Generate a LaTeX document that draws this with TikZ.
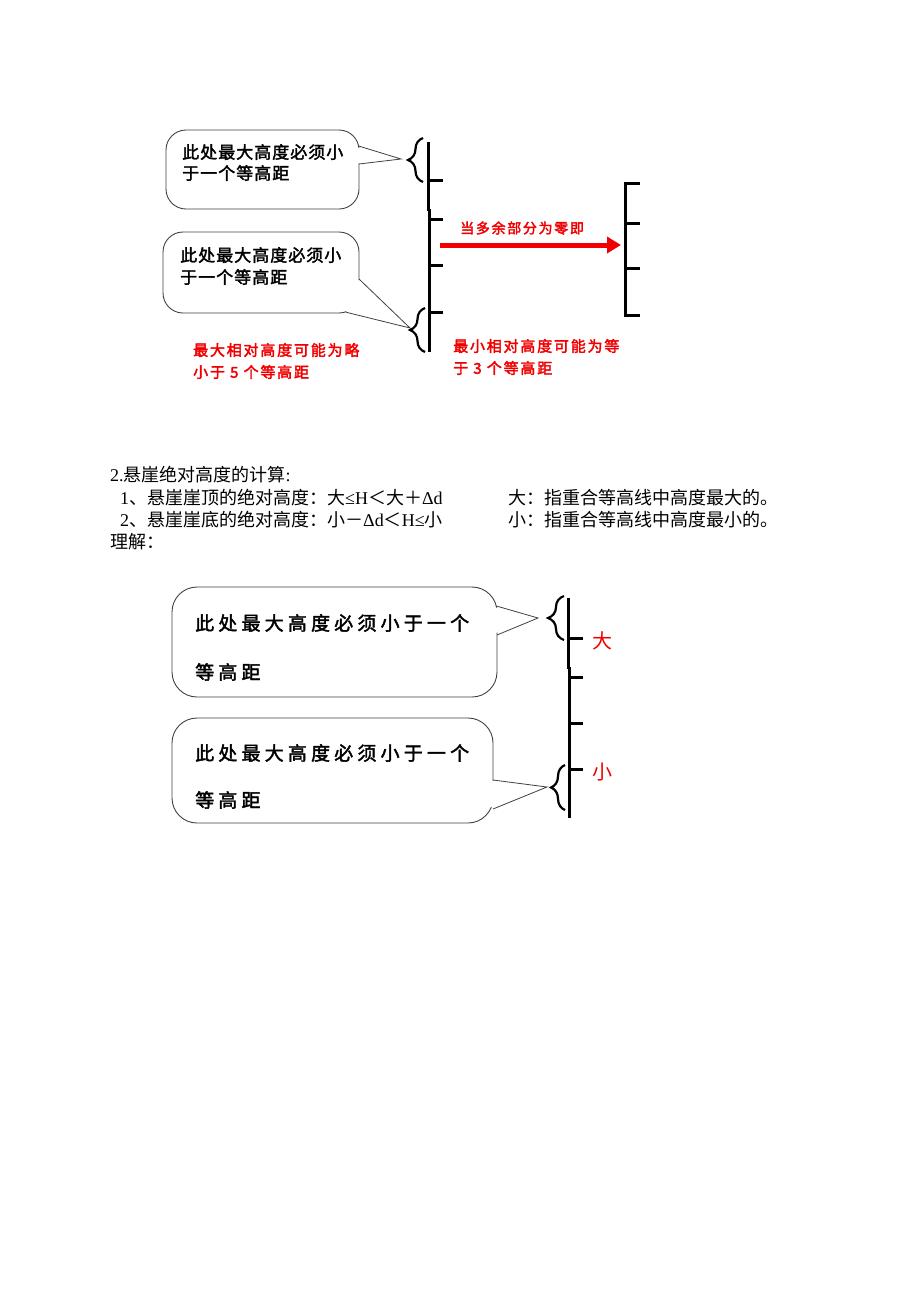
\documentclass[tikz,border=0pt]{standalone}
\usepackage{fontspec}
\setmainfont{Liberation Serif}
\newfontfamily\cjk{Noto Sans CJK SC}
\newfontfamily\cjkbA[FakeBold=2,LetterSpace=6]{Noto Sans CJK SC}
\newfontfamily\cjkred[FakeBold=2.5,LetterSpace=12]{Noto Sans CJK SC}
\newfontfamily\cjkbB[FakeBold=2,LetterSpace=22]{Noto Sans CJK SC}
\usetikzlibrary{decorations.pathreplacing,arrows.meta}
\definecolor{rd}{RGB}{240,0,0}
\begin{document}
\begin{tikzpicture}[x=1pt,y=-1pt,
  bubble/.style={draw=black!75,line width=0.9pt,rounded corners=20pt},
  bubbleB/.style={draw=black!75,line width=0.9pt,rounded corners=25pt},
  ptr/.style={draw=black!75,line width=0.8pt,line join=miter},
  ruler/.style={line width=3pt},
  tickmark/.style={line width=3pt},
  brc/.style={decorate,decoration={brace,amplitude=#1},line width=2.2pt},
  txt/.style={inner sep=0pt,anchor=west},
  boxtxt/.style={txt,font=\fontsize{17}{19}\cjkbA},
  redtxt/.style={txt,text=rd,font=\fontsize{15}{17}\cjkred},
  bigtxt/.style={txt,font=\fontsize{19}{21}\cjkbB},
  body/.style={txt,font=\fontsize{18}{20}\selectfont}
]
\useasboundingbox (0,0) rectangle (920,1302);

% ---------------- diagram 1 ----------------
\coordinate (t1) at (401,159);
\begin{scope}[even odd rule]
\clip (0,0) rectangle (920,1302) (352,146) -- (t1) -- (352,164) -- cycle;
\draw[bubble] (166,130) rectangle (359,209);
\end{scope}
\draw[ptr] (358.6,146) -- (t1) -- (358.9,164);

\coordinate (t2) at (410,328);
\begin{scope}[even odd rule]
\clip (0,0) rectangle (920,1302) (359,279) -- (t2) -- (346,312) -- cycle;
\draw[bubble] (163,232) rectangle (359,313);
\end{scope}
\draw[ptr] (359,279) -- (t2) -- (346,312.2);

\node[boxtxt] (b1l1) at (182,152) {此处最大高度必须小};
\node[boxtxt] (b1l2) at (182,173) {于一个等高距};
\node[boxtxt] (b2l1) at (180,255) {此处最大高度必须小};
\node[boxtxt] (b2l2) at (180,277) {于一个等高距};

% braces
\draw[brc=15pt] (423,182) -- (423,138);
\draw[brc=15pt] (425,352) -- (425,308);

% left ruler
\draw[ruler] (428,142) -- (428,211);
\draw[ruler] (429.5,209) -- (429.5,352);
\foreach \yy in {180,219,265,312} \draw[tickmark] (428,\yy) -- (443,\yy);

% right ruler
\draw[ruler,line join=miter] (640,183) -- (625,183) -- (625,315) -- (640,315);
\foreach \yy in {223,268} \draw[tickmark] (625,\yy) -- (640,\yy);

% arrow
\coordinate (as) at (440,245);
\coordinate (ae) at (621,245);
\draw[rd,line width=5pt,-{Triangle[length=14pt,width=16pt]}] (as) -- (ae);
\node[txt,text=rd,font=\fontsize{14}{16}\cjkred] (alab) at (460,228) {当多余部分为零即};

% red notes
\node[redtxt] (r1) at (193,350) {最大相对高度可能为略};
\node[redtxt] (r2) at (193,372) {小于 5 个等高距};
\node[redtxt] (r3) at (453,346) {最小相对高度可能为等};
\node[redtxt] (r4) at (453,368) {于 3 个等高距};

% ---------------- text ----------------
\node[body] (l1) at (110,475) {2.{\cjk 悬崖绝对高度的计算}:};
\node[body] (l2) at (120,498) {1{\cjk 、悬崖崖顶的绝对高度：大}≤H{\cjk ＜大＋}Δd};
\node[body] (l2b) at (508,498) {{\cjk 大：指重合等高线中高度最大的。}};
\node[body] (l3) at (120,520) {2{\cjk 、悬崖崖底的绝对高度：小－}Δd{\cjk ＜}H≤{\cjk 小}};
\node[body] (l3b) at (508,520) {{\cjk 小：指重合等高线中高度最小的。}};
\node[body] (l4) at (110,542) {{\cjk 理解：}};

% ---------------- diagram 2 ----------------
\coordinate (t3) at (538,618);
\begin{scope}[even odd rule]
\clip (0,0) rectangle (920,1302) (490,606) -- (t3) -- (490,635) -- cycle;
\draw[bubbleB] (172,587) rectangle (497,697);
\end{scope}
\draw[ptr] (496.4,606) -- (t3) -- (497,635);

\coordinate (t4) at (547,787);
\begin{scope}[even odd rule]
\clip (0,0) rectangle (920,1302) (486,780) -- (t4) -- (486,809) -- cycle;
\draw[bubbleB] (172,718) rectangle (493,823);
\end{scope}
\draw[ptr] (493,780) -- (t4) -- (493,809);

\node[bigtxt] (cA1) at (195,623) {此处最大高度必须小于一个};
\node[bigtxt] (cA2) at (195,672) {等高距};
\node[bigtxt] (cB1) at (195,753) {此处最大高度必须小于一个};
\node[bigtxt] (cB2) at (195,800) {等高距};

\draw[brc=16pt] (564,640) -- (564,596);
\draw[brc=14pt] (565,810) -- (565,765);

\draw[ruler] (568,598) -- (568,669);
\draw[ruler] (569.5,667) -- (569.5,818);
\foreach \yy in {638,677,723,769} \draw[tickmark] (568,\yy) -- (583,\yy);

\node[text=rd,font=\fontsize{20}{22}\cjk,inner sep=0pt] (da) at (602,641) {大};
\node[text=rd,font=\fontsize{20}{22}\cjk,inner sep=0pt] (xiao) at (602,772) {小};
\end{tikzpicture}
\end{document}
